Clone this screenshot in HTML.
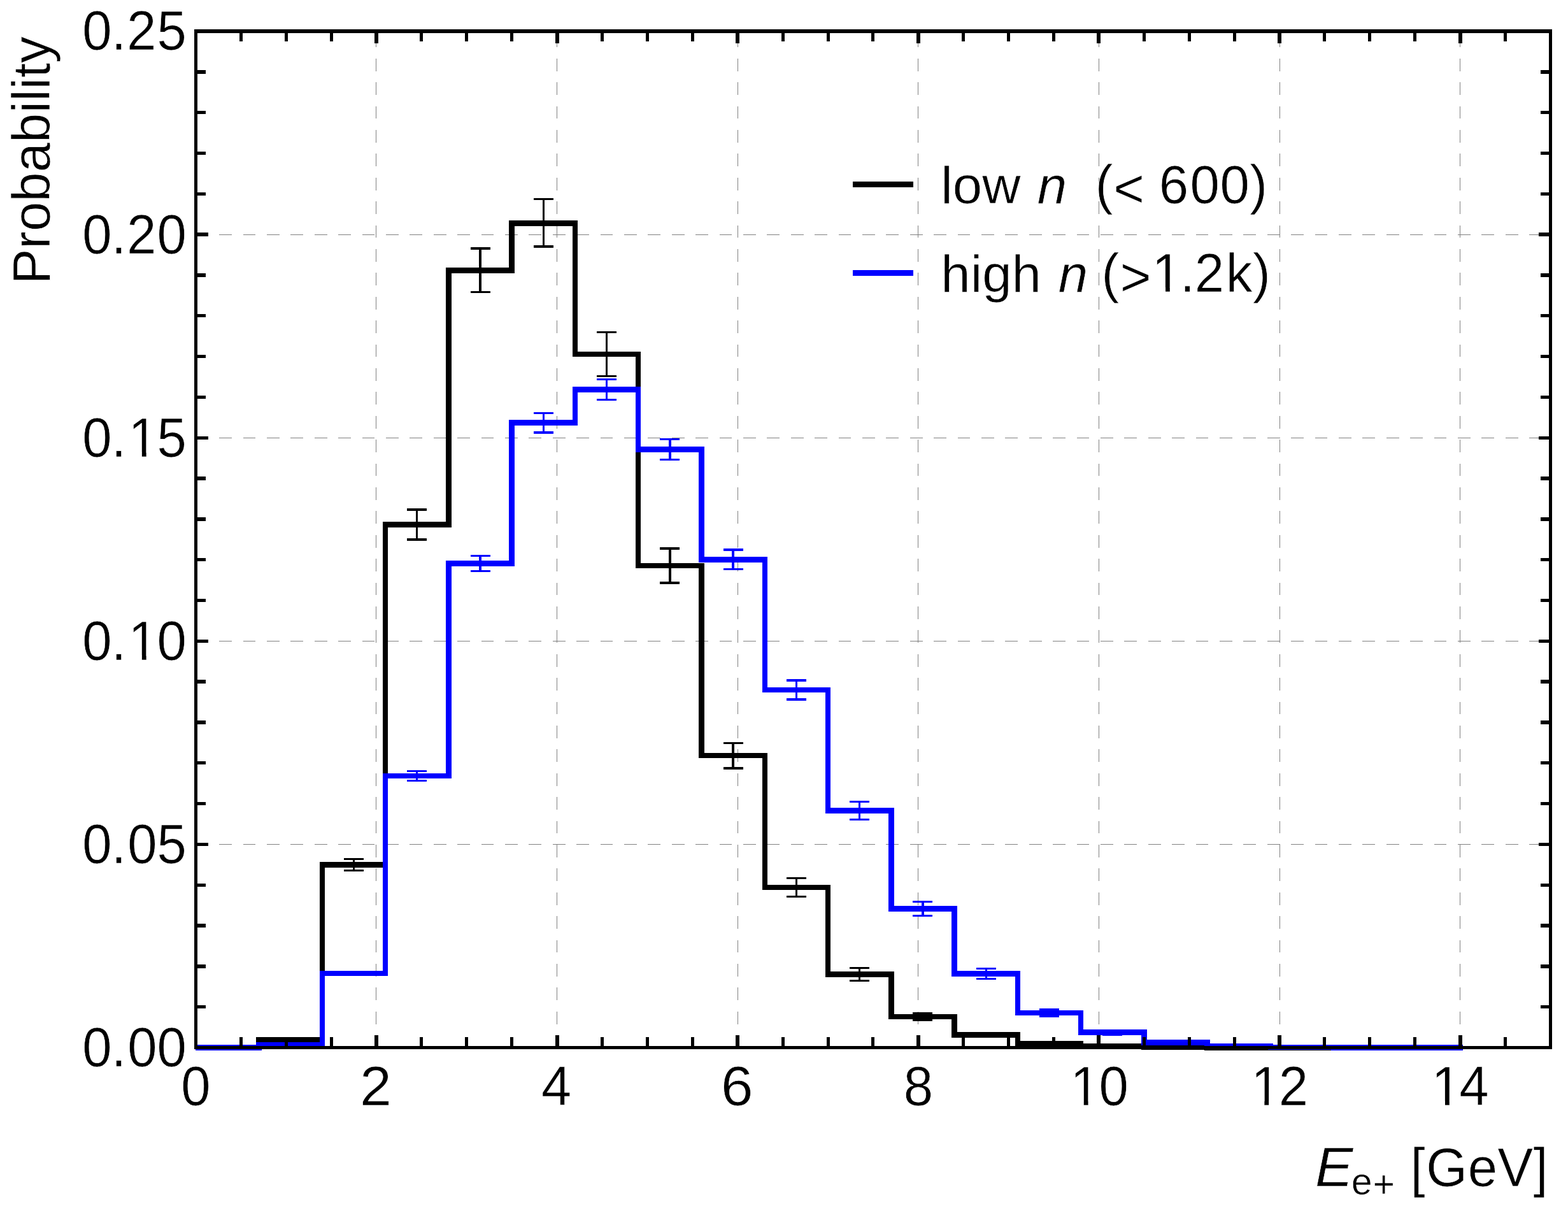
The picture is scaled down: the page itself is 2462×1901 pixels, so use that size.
<!DOCTYPE html>
<html lang="en">
<head>
<meta charset="utf-8">
<title>Probability</title>
<style>
html,body{margin:0;padding:0;background:#fff;}
body{width:2462px;height:1901px;overflow:hidden;}
svg{display:block;}
text{font-family:"Liberation Sans", sans-serif;font-size:83.33px;fill:#000;font-kerning:none;white-space:pre;stroke:#fff;stroke-width:0.6px;paint-order:fill stroke;stroke-linejoin:round;}
.it{font-style:italic;}
.sub{font-size:59.16px;}
.g line{stroke:#808080;stroke-width:1;stroke-dasharray:19.8 17.6;}
.sh{shape-rendering:crispEdges;}
</style>
</head>
<body>
<svg width="2462" height="1901" viewBox="0 0 2462 1901">
<rect x="0" y="0" width="2462" height="1901" fill="#ffffff"/>

<g class="g sh">
<line x1="590.98" y1="1645.00" x2="590.98" y2="49.00"/>
<line x1="874.60" y1="1645.00" x2="874.60" y2="49.00"/>
<line x1="1158.22" y1="1645.00" x2="1158.22" y2="49.00"/>
<line x1="1441.84" y1="1645.00" x2="1441.84" y2="49.00"/>
<line x1="1725.46" y1="1645.00" x2="1725.46" y2="49.00"/>
<line x1="2009.08" y1="1645.00" x2="2009.08" y2="49.00"/>
<line x1="2292.70" y1="1645.00" x2="2292.70" y2="49.00"/>
<line x1="306.80" y1="1325.40" x2="2434.51" y2="1325.40"/>
<line x1="306.80" y1="1006.30" x2="2434.51" y2="1006.30"/>
<line x1="306.80" y1="687.20" x2="2434.51" y2="687.20"/>
<line x1="306.80" y1="368.10" x2="2434.51" y2="368.10"/>
</g>
<path class="sh" d="M307.36 1644.50 L406.63 1644.50 L406.63 1632.30 L505.89 1632.30 L505.89 1357.40 L605.16 1357.40 L605.16 823.60 L704.43 823.60 L704.43 424.60 L803.70 424.60 L803.70 350.30 L902.96 350.30 L902.96 556.10 L1002.23 556.10 L1002.23 887.90 L1101.50 887.90 L1101.50 1186.20 L1200.76 1186.20 L1200.76 1393.00 L1300.03 1393.00 L1300.03 1529.40 L1399.30 1529.40 L1399.30 1595.90 L1498.56 1595.90 L1498.56 1624.40 L1597.83 1624.40 L1597.83 1638.30 L1697.10 1638.30 L1697.10 1642.60 L1796.37 1642.60 L1796.37 1643.80 L1895.63 1643.80 L1895.63 1644.50 L1994.90 1644.50 L1994.90 1644.50 L2094.17 1644.50 L2094.17 1644.50 L2193.43 1644.50 L2193.43 1644.50 L2296.95 1644.50" fill="none" stroke="#000000" stroke-width="8.5" stroke-linejoin="miter" stroke-linecap="butt"/>
<g class="sh" stroke="#000000" stroke-width="3.33" fill="none">
<path d="M555.53 1348.40V1366.40M540.03 1348.40H571.03M540.03 1366.40H571.03"/>
<path d="M654.79 800.15V847.05M639.29 800.15H670.29M639.29 847.05H670.29"/>
<path d="M754.06 389.95V458.45M738.56 389.95H769.56M738.56 458.45H769.56"/>
<path d="M853.33 312.50V387.10M837.83 312.50H868.83M837.83 387.10H868.83"/>
<path d="M952.60 521.50V590.70M937.10 521.50H968.10M937.10 590.70H968.10"/>
<path d="M1051.86 860.90V914.90M1036.36 860.90H1067.36M1036.36 914.90H1067.36"/>
<path d="M1151.13 1166.40V1206.00M1135.63 1166.40H1166.63M1135.63 1206.00H1166.63"/>
<path d="M1250.40 1378.20V1407.80M1234.90 1378.20H1265.90M1234.90 1407.80H1265.90"/>
<path d="M1349.66 1519.60V1539.20M1334.16 1519.60H1365.16M1334.16 1539.20H1365.16"/>
<path d="M1448.93 1590.90V1600.90M1433.43 1590.90H1464.43M1433.43 1600.90H1464.43"/>
</g>
<path class="sh" d="M307.36 1644.50 L406.63 1644.50 L406.63 1640.40 L505.89 1640.40 L505.89 1527.80 L605.16 1527.80 L605.16 1218.00 L704.43 1218.00 L704.43 884.60 L803.70 884.60 L803.70 663.60 L902.96 663.60 L902.96 611.50 L1002.23 611.50 L1002.23 705.60 L1101.50 705.60 L1101.50 878.30 L1200.76 878.30 L1200.76 1083.00 L1300.03 1083.00 L1300.03 1272.50 L1399.30 1272.50 L1399.30 1426.60 L1498.56 1426.60 L1498.56 1528.50 L1597.83 1528.50 L1597.83 1590.00 L1697.10 1590.00 L1697.10 1620.40 L1796.37 1620.40 L1796.37 1636.30 L1895.63 1636.30 L1895.63 1642.00 L1994.90 1642.00 L1994.90 1643.90 L2094.17 1643.90 L2094.17 1644.50 L2193.43 1644.50 L2193.43 1644.50 L2296.95 1644.50" fill="none" stroke="#0000ff" stroke-width="8.5" stroke-linejoin="miter" stroke-linecap="butt"/>
<g class="sh" stroke="#0000ff" stroke-width="3.33" fill="none">
<path d="M654.79 1210.50V1225.50M639.29 1210.50H670.29M639.29 1225.50H670.29"/>
<path d="M754.06 872.50V896.70M738.56 872.50H769.56M738.56 896.70H769.56"/>
<path d="M853.33 648.30V678.90M837.83 648.30H868.83M837.83 678.90H868.83"/>
<path d="M952.60 595.80V627.20M937.10 595.80H968.10M937.10 627.20H968.10"/>
<path d="M1051.86 689.60V721.60M1036.36 689.60H1067.36M1036.36 721.60H1067.36"/>
<path d="M1151.13 863.00V893.60M1135.63 863.00H1166.63M1135.63 893.60H1166.63"/>
<path d="M1250.40 1067.90V1098.10M1234.90 1067.90H1265.90M1234.90 1098.10H1265.90"/>
<path d="M1349.66 1258.65V1286.35M1334.16 1258.65H1365.16M1334.16 1286.35H1365.16"/>
<path d="M1448.93 1415.60V1437.60M1433.43 1415.60H1464.43M1433.43 1437.60H1464.43"/>
<path d="M1548.20 1520.60V1536.40M1532.70 1520.60H1563.70M1532.70 1536.40H1563.70"/>
<path d="M1647.46 1585.00V1595.00M1631.96 1585.00H1662.96M1631.96 1595.00H1662.96"/>
<path d="M1746.73 1618.80V1624.00M1731.23 1618.80H1762.23M1731.23 1624.00H1762.23"/>
</g>
<g class="sh" stroke="#000" fill="none">
<path stroke-width="5.0" d="M378.26 1644.50v-16.2M378.26 49.00v16.2"/>
<path stroke-width="5.0" d="M449.17 1644.50v-16.2M449.17 49.00v16.2"/>
<path stroke-width="5.0" d="M520.08 1644.50v-16.2M520.08 49.00v16.2"/>
<path stroke-width="6.0" d="M590.98 1644.50v-19.25M590.98 49.00v19.25"/>
<path stroke-width="5.0" d="M661.88 1644.50v-16.2M661.88 49.00v16.2"/>
<path stroke-width="5.0" d="M732.79 1644.50v-16.2M732.79 49.00v16.2"/>
<path stroke-width="5.0" d="M803.70 1644.50v-16.2M803.70 49.00v16.2"/>
<path stroke-width="6.0" d="M874.60 1644.50v-19.25M874.60 49.00v19.25"/>
<path stroke-width="5.0" d="M945.50 1644.50v-16.2M945.50 49.00v16.2"/>
<path stroke-width="5.0" d="M1016.41 1644.50v-16.2M1016.41 49.00v16.2"/>
<path stroke-width="5.0" d="M1087.32 1644.50v-16.2M1087.32 49.00v16.2"/>
<path stroke-width="6.0" d="M1158.22 1644.50v-19.25M1158.22 49.00v19.25"/>
<path stroke-width="5.0" d="M1229.12 1644.50v-16.2M1229.12 49.00v16.2"/>
<path stroke-width="5.0" d="M1300.03 1644.50v-16.2M1300.03 49.00v16.2"/>
<path stroke-width="5.0" d="M1370.93 1644.50v-16.2M1370.93 49.00v16.2"/>
<path stroke-width="6.0" d="M1441.84 1644.50v-19.25M1441.84 49.00v19.25"/>
<path stroke-width="5.0" d="M1512.74 1644.50v-16.2M1512.74 49.00v16.2"/>
<path stroke-width="5.0" d="M1583.65 1644.50v-16.2M1583.65 49.00v16.2"/>
<path stroke-width="5.0" d="M1654.55 1644.50v-16.2M1654.55 49.00v16.2"/>
<path stroke-width="6.0" d="M1725.46 1644.50v-19.25M1725.46 49.00v19.25"/>
<path stroke-width="5.0" d="M1796.37 1644.50v-16.2M1796.37 49.00v16.2"/>
<path stroke-width="5.0" d="M1867.27 1644.50v-16.2M1867.27 49.00v16.2"/>
<path stroke-width="5.0" d="M1938.18 1644.50v-16.2M1938.18 49.00v16.2"/>
<path stroke-width="6.0" d="M2009.08 1644.50v-19.25M2009.08 49.00v19.25"/>
<path stroke-width="5.0" d="M2079.99 1644.50v-16.2M2079.99 49.00v16.2"/>
<path stroke-width="5.0" d="M2150.89 1644.50v-16.2M2150.89 49.00v16.2"/>
<path stroke-width="5.0" d="M2221.80 1644.50v-16.2M2221.80 49.00v16.2"/>
<path stroke-width="6.0" d="M2292.70 1644.50v-19.25M2292.70 49.00v19.25"/>
<path stroke-width="5.0" d="M2363.61 1644.50v-16.2M2363.61 49.00v16.2"/>
<path stroke-width="5.4" d="M307.36 1580.68h15.6M2434.51 1580.68h-15.6"/>
<path stroke-width="5.4" d="M307.36 1516.86h15.6M2434.51 1516.86h-15.6"/>
<path stroke-width="5.4" d="M307.36 1453.04h15.6M2434.51 1453.04h-15.6"/>
<path stroke-width="5.4" d="M307.36 1389.22h15.6M2434.51 1389.22h-15.6"/>
<path stroke-width="5.4" d="M307.36 1325.40h19.25M2434.51 1325.40h-18.75"/>
<path stroke-width="5.4" d="M307.36 1261.58h15.6M2434.51 1261.58h-15.6"/>
<path stroke-width="5.4" d="M307.36 1197.76h15.6M2434.51 1197.76h-15.6"/>
<path stroke-width="5.4" d="M307.36 1133.94h15.6M2434.51 1133.94h-15.6"/>
<path stroke-width="5.4" d="M307.36 1070.12h15.6M2434.51 1070.12h-15.6"/>
<path stroke-width="5.4" d="M307.36 1006.30h19.25M2434.51 1006.30h-18.75"/>
<path stroke-width="5.4" d="M307.36 942.48h15.6M2434.51 942.48h-15.6"/>
<path stroke-width="5.4" d="M307.36 878.66h15.6M2434.51 878.66h-15.6"/>
<path stroke-width="5.4" d="M307.36 814.84h15.6M2434.51 814.84h-15.6"/>
<path stroke-width="5.4" d="M307.36 751.02h15.6M2434.51 751.02h-15.6"/>
<path stroke-width="5.4" d="M307.36 687.20h19.25M2434.51 687.20h-18.75"/>
<path stroke-width="5.4" d="M307.36 623.38h15.6M2434.51 623.38h-15.6"/>
<path stroke-width="5.4" d="M307.36 559.56h15.6M2434.51 559.56h-15.6"/>
<path stroke-width="5.4" d="M307.36 495.74h15.6M2434.51 495.74h-15.6"/>
<path stroke-width="5.4" d="M307.36 431.92h15.6M2434.51 431.92h-15.6"/>
<path stroke-width="5.4" d="M307.36 368.10h19.25M2434.51 368.10h-18.75"/>
<path stroke-width="5.4" d="M307.36 304.28h15.6M2434.51 304.28h-15.6"/>
<path stroke-width="5.4" d="M307.36 240.46h15.6M2434.51 240.46h-15.6"/>
<path stroke-width="5.4" d="M307.36 176.64h15.6M2434.51 176.64h-15.6"/>
<path stroke-width="5.4" d="M307.36 112.82h15.6M2434.51 112.82h-15.6"/>
</g>
<rect class="sh" x="307.36" y="49.00" width="2127.15" height="1595.50" fill="none" stroke="#000" stroke-width="5.5"/>
<text transform="translate(284.19 1735.30) scale(1 1.047)">0</text>
<text transform="translate(564.95 1735.30) scale(1.0735 1.047)">2</text>
<text transform="translate(849.93 1735.30) scale(1.02 1.047)">4</text>
<text transform="translate(1131.92 1735.30) scale(1.09 1.047)">6</text>
<text transform="translate(1418.67 1735.30) scale(1 1.047)">8</text>
<clipPath id="c1" clipPathUnits="userSpaceOnUse"><path d="M-10.0 -80H102.7V-7.3H-10.0ZM-10.00 -7.8H-1.60V25H-10.00ZM22.65 -7.8H29.42V25H22.65ZM48.74 -7.8H102.69V25H48.74Z"/></clipPath>
<text transform="translate(1679.12 1735.30) scale(1 1.047)" x="1.40 46.34" clip-path="url(#c1)">10</text>
<clipPath id="c2" clipPathUnits="userSpaceOnUse"><path d="M-10.0 -80H102.7V-7.3H-10.0ZM-10.00 -7.8H-1.60V25H-10.00ZM22.65 -7.8H29.42V25H22.65ZM48.74 -7.8H102.69V25H48.74Z"/></clipPath>
<text transform="translate(1962.74 1735.30) scale(1 1.047)" x="1.40 45.14" clip-path="url(#c2)">12</text>
<clipPath id="c3" clipPathUnits="userSpaceOnUse"><path d="M-10.0 -80H102.7V-7.3H-10.0ZM-10.00 -7.8H-1.60V25H-10.00ZM22.65 -7.8H29.42V25H22.65ZM48.74 -7.8H102.69V25H48.74Z"/></clipPath>
<text transform="translate(2246.36 1735.30) scale(1 1.047)" x="1.40 44.94" clip-path="url(#c3)">14</text>
<text transform="translate(130.22 1674.10) scale(1 1.047)" x="-1.00 44.84 70.00 116.34">0.00</text>
<text transform="translate(130.22 1355.00) scale(1 1.047)" x="-1.00 44.84 70.00 116.34">0.05</text>
<clipPath id="c4" clipPathUnits="userSpaceOnUse"><path d="M-10.0 -80H172.2V-7.3H-10.0ZM-10.00 -7.8H68.40V25H-10.00ZM92.65 -7.8H99.42V25H92.65ZM118.74 -7.8H172.18V25H118.74Z"/></clipPath>
<text transform="translate(130.22 1035.90) scale(1 1.047)" x="-1.00 44.84 71.40 116.34" clip-path="url(#c4)">0.10</text>
<clipPath id="c5" clipPathUnits="userSpaceOnUse"><path d="M-10.0 -80H172.2V-7.3H-10.0ZM-10.00 -7.8H68.40V25H-10.00ZM92.65 -7.8H99.42V25H92.65ZM118.74 -7.8H172.18V25H118.74Z"/></clipPath>
<text transform="translate(130.22 716.80) scale(1 1.047)" x="-1.00 44.84 71.40 116.34" clip-path="url(#c5)">0.15</text>
<text transform="translate(130.22 397.70) scale(1 1.047)" x="-1.00 44.84 68.80 116.34">0.20</text>
<text transform="translate(130.22 77.70) scale(1 1.047)" x="-1.00 44.84 68.80 116.34">0.25</text>
<text transform="translate(78.30 446.30) rotate(-90)">Probability</text>
<text class="it" transform="translate(2065.10 1861.70) scale(1.07 1.047)">E</text>
<text class="sub" transform="translate(2121.08 1875.00)" x="0.60 34.50" dy="0.00 4.00">e+</text>
<text transform="translate(2214.19 1861.70) scale(1 1.03)" x="0.40 24.95 90.57 137.31 193.39">[GeV]</text>
<path class="sh" d="M1338.8 289.4H1434.1" stroke="#000" stroke-width="8.5" fill="none"/>
<path class="sh" d="M1338.8 428.4H1434.1" stroke="#0000ff" stroke-width="8.5" fill="none"/>
<text transform="translate(1477.30 319.30) scale(1 0.985)">low</text>
<text class="it" transform="translate(1628.79 319.30) scale(1 0.985)">n</text>
<text transform="translate(1718.14 319.30) scale(1 1.03)" x="1.50 30.15 76.41 101.71 150.31 197.45 244.00" dy="0.00 5.34 -5.34 0.00 0.00 0.00 0.00">(&lt; 600)</text>
<text transform="translate(1477.30 458.10) scale(1 0.985)">high</text>
<text class="it" transform="translate(1661.80 458.10) scale(1 0.985)">n</text>
<clipPath id="c6" clipPathUnits="userSpaceOnUse"><path d="M-10.0 -80H271.7V-7.3H-10.0ZM-10.00 -7.8H78.31V25H-10.00ZM102.57 -7.8H109.33V25H102.57ZM128.66 -7.8H271.67V25H128.66Z"/></clipPath>
<text transform="translate(1727.49 458.10) scale(1 1.03)" x="2.00 31.15 81.31 125.26 148.21 197.25 239.42" dy="0.00 5.34 -5.34 0.00 0.00 0.00 0.00" clip-path="url(#c6)">(&gt;1.2k)</text>
</svg>
</body>
</html>
